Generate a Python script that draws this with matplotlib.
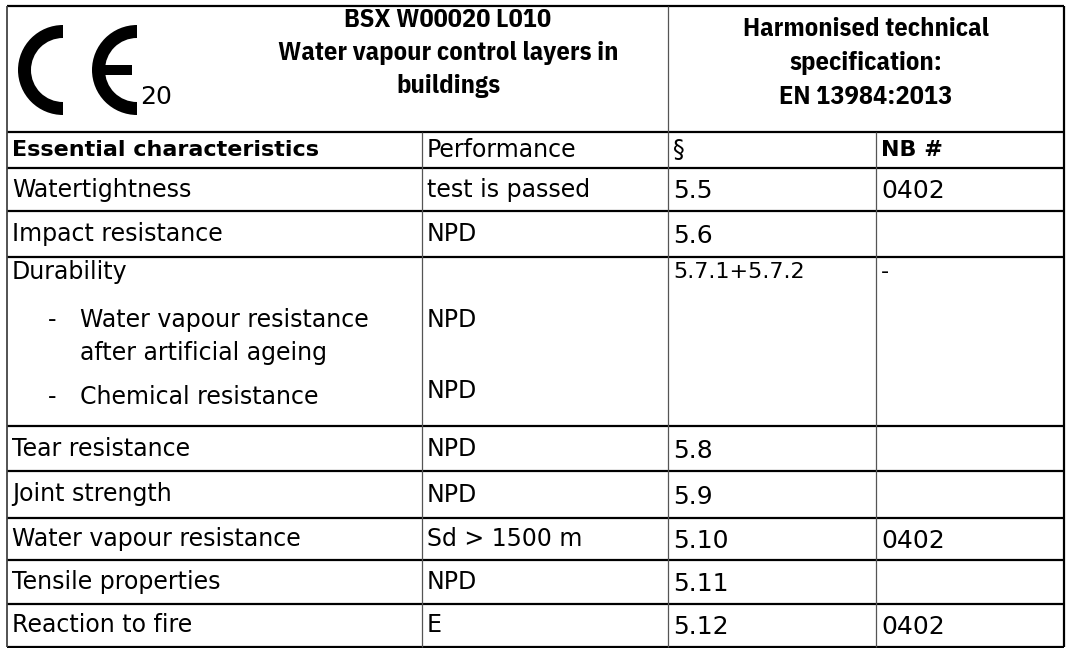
import matplotlib
matplotlib.use('Agg')
import matplotlib.pyplot as plt
from matplotlib.patches import Wedge, Rectangle

# table content
title_lines = ['BSX W00020 L010', 'Water vapour control layers in', 'buildings']
spec_lines = ['Harmonised technical', 'specification:', 'EN 13984:2013']
ce_number = '20'
col_headers = ['Essential characteristics', 'Performance', '§', 'NB #']
characteristics = ['Watertightness', 'Impact resistance', 'Durability', 'Tear resistance',
                   'Joint strength', 'Water vapour resistance', 'Tensile properties',
                   'Reaction to fire']
performance = ['test is passed', 'NPD', '', 'NPD', 'NPD', 'Sd > 1500 m', 'NPD', 'E']
clauses = ['5.5', '5.6', '5.7.1+5.7.2', '5.8', '5.9', '5.10', '5.11', '5.12']
notified_body = ['0402', '', '-', '', '', '0402', '', '0402']
durability_items = [['Water vapour resistance', 'after artificial ageing'],
                    ['Chemical resistance']]
durability_perf = ['NPD', 'NPD']

# layout in pixels
W, H = 1066, 648
col_x = [7, 422, 668, 876, 1064]
top = 6
header_h = 126
row_h = [36, 43, 46, 169, 45, 47, 42, 44, 43]
FS = 17        # body text
FS_NUM = 18    # clause / NB numbers
FS_HEAD = 19   # bold header block
font = 'DejaVu Sans'
head_font = ['IBM Plex Sans Condensed', 'DejaVu Sans']

fig = plt.figure(figsize=(W / 100, H / 100), dpi=100)
ax = fig.add_axes([0, 0, 1, 1])
ax.set_xlim(0, W)
ax.set_ylim(H, 0)
ax.axis('off')

row_y = [top + header_h]
for h in row_h:
    row_y.append(row_y[-1] + h)
bottom = row_y[-1]


def hline(y):
    ax.plot([col_x[0], col_x[-1]], [y, y], color='black', lw=1.6, solid_capstyle='butt')


def vline(x, y0, y1, color='#555555', lw=0.9):
    ax.plot([x, x], [y0, y1], color=color, lw=lw, solid_capstyle='butt')


# outer frame and grid
hline(top)
for y in row_y:
    hline(y)
vline(col_x[0], top, bottom, color='#444444', lw=1.3)
vline(col_x[-1], top, bottom, color='black', lw=1.6)
vline(col_x[2], top, row_y[0])
for x in col_x[1:-1]:
    vline(x, row_y[0], bottom)

# CE mark
ce_cy = 70
ce_r = 45
ce_w = 13
ax.add_patch(Wedge((63, ce_cy), ce_r, 90, 270, width=ce_w, color='black', lw=0))
ax.add_patch(Wedge((137, ce_cy), ce_r, 90, 270, width=ce_w, color='black', lw=0))
ax.add_patch(Rectangle((137 - ce_r + ce_w - 1, ce_cy - 5), ce_r - ce_w - 4, 10, color='black', lw=0))
ax.text(140, 97, ce_number, fontsize=18, family=font, va='center', ha='left')

# header texts
title_y = [20, 53, 86]
for t, y in zip(title_lines, title_y):
    ax.text(448, y, t, fontsize=FS_HEAD, family=head_font, weight='bold', ha='center', va='center')
spec_y = [29, 63, 97]
for t, y in zip(spec_lines, spec_y):
    ax.text(866, y, t, fontsize=FS_HEAD, family=head_font, weight='bold', ha='center', va='center')

# column header row
hy = (row_y[0] + row_y[1]) / 2
weights = ['bold', 'normal', 'normal', 'bold']
sizes = [16, FS, FS, 16]
for j, t in enumerate(col_headers):
    ax.text(col_x[j] + 5, hy, t, fontsize=sizes[j], family=font, weight=weights[j],
            va='center', ha='left')

# body rows
for i, name in enumerate(characteristics):
    y0, y1 = row_y[i + 1], row_y[i + 2]
    if name == 'Durability':
        h = y1 - y0
        ax.text(col_x[0] + 5, y0 + 0.09 * h, name, fontsize=FS, family=font, va='center')
        ax.text(col_x[2] + 5, y0 + 0.09 * h, clauses[i], fontsize=16, family=font, va='center')
        ax.text(col_x[3] + 5, y0 + 0.09 * h, notified_body[i], fontsize=16, family=font, va='center')
        item_y = [0.37, 0.83]
        perf_y = [0.37, 0.79]
        for k, lines in enumerate(durability_items):
            yy = y0 + item_y[k] * h
            ax.text(48, yy, '-', fontsize=FS, family=font, va='center')
            for m, ln in enumerate(lines):
                ax.text(80, yy + m * 0.2 * h, ln, fontsize=FS, family=font, va='center')
            ax.text(col_x[1] + 5, y0 + perf_y[k] * h, durability_perf[k], fontsize=FS,
                    family=font, va='center')
        continue
    yc = (y0 + y1) / 2
    ax.text(col_x[0] + 5, yc, name, fontsize=FS, family=font, va='center')
    ax.text(col_x[1] + 5, yc, performance[i], fontsize=FS, family=font, va='center')
    ax.text(col_x[2] + 5, yc + 2, clauses[i], fontsize=FS_NUM, family=font, va='center')
    ax.text(col_x[3] + 5, yc + 2, notified_body[i], fontsize=FS_NUM, family=font, va='center')

fig.savefig('out.png', dpi=100)
